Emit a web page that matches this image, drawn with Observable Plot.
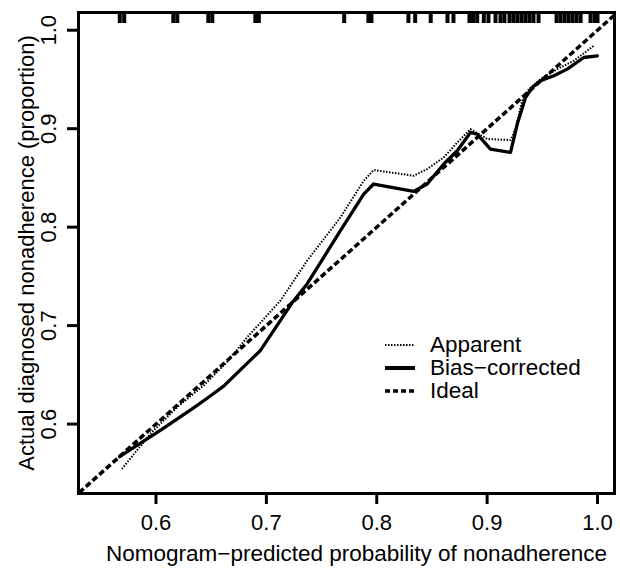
<!DOCTYPE html>
<html><head><meta charset="utf-8">
<script src="https://cdn.jsdelivr.net/npm/d3@7"></script>
<script src="https://cdn.jsdelivr.net/npm/@observablehq/plot@0.6"></script>
<style>
html,body{margin:0;padding:0;background:#fff;}
#wrap{position:relative;width:620px;height:570px;font-family:"Liberation Sans",Arial,sans-serif;color:#000;}
#legend{position:absolute;left:385px;top:333px;font-size:22.5px;color:#000;}
.row{display:flex;align-items:center;height:23.35px;white-space:nowrap;}
.row svg{width:30px;height:10px;margin-right:15px;flex:none;}
</style></head><body><div id="wrap"></div>
<script>
// Data
const apparentX = [0.5691, 0.5948, 0.6190, 0.6430, 0.6643, 0.6825, 0.7127, 0.7369, 0.7671, 0.7882, 0.7972, 0.8335, 0.8457, 0.8607, 0.8730, 0.8849, 0.9001, 0.9212, 0.9257, 0.9318, 0.9378, 0.9484, 0.9635, 0.9786, 0.9967];
const apparentY = [0.5544, 0.5900, 0.6170, 0.6390, 0.6630, 0.6880, 0.7253, 0.7659, 0.8099, 0.8471, 0.8580, 0.8522, 0.8590, 0.8708, 0.8860, 0.8996, 0.8895, 0.8885, 0.8996, 0.9284, 0.9402, 0.9504, 0.9605, 0.9690, 0.9842];
const biasX = [0.5670, 0.6039, 0.6341, 0.6492, 0.6613, 0.6945, 0.7247, 0.7369, 0.7671, 0.7882, 0.7972, 0.8335, 0.8457, 0.8607, 0.8729, 0.8849, 0.8910, 0.9030, 0.9212, 0.9273, 0.9348, 0.9409, 0.9484, 0.9604, 0.9726, 0.9876, 0.9998];
const biasY = [0.5669, 0.5935, 0.6165, 0.6285, 0.6385, 0.6746, 0.7253, 0.7423, 0.7964, 0.8336, 0.8438, 0.8363, 0.8438, 0.8641, 0.8776, 0.8962, 0.8945, 0.8793, 0.8759, 0.9047, 0.9317, 0.9419, 0.9487, 0.9537, 0.9605, 0.9723, 0.9740];
const idealX = [0.50, 1.05];
const rugX = [0.5672, 0.5712, 0.6157, 0.6193, 0.6474, 0.6510, 0.6900, 0.6932, 0.7705, 0.7924, 0.7952, 0.8287, 0.8348, 0.8489, 0.8641, 0.8695, 0.8840, 0.8872, 0.8910, 0.8970, 0.9012, 0.9076, 0.9121, 0.9157, 0.9203, 0.9239, 0.9275, 0.9312, 0.9348, 0.9384, 0.9420, 0.9466, 0.9629, 0.9665, 0.9702, 0.9738, 0.9774, 0.9810, 0.9847, 0.9937, 0.9974, 1.0];
const xTicks = [0.6, 0.7, 0.8, 0.9, 1.0];
const yTicks = [0.6, 0.7, 0.8, 0.9, 1.0];
const xDomain = [0.5298, 1.0154];
const yDomain = [0.5295, 1.018];
const xLabel = "Nomogram\u2212predicted probability of nonadherence";
const yLabel = "Actual diagnosed nonadherence (proportion)";
const legendLabels = ["Apparent", "Bias\u2212corrected", "Ideal"];

const apparent = apparentX.map((x, i) => ({x, y: apparentY[i]}));
const bias = biasX.map((x, i) => ({x, y: biasY[i]}));
const ideal = idealX.map(v => ({x: v, y: v}));
const fmt = d3.format(".1f");
const FONT = "Liberation Sans, Arial, Helvetica, sans-serif";

const chart = Plot.plot({
  width: 620, height: 570,
  marginLeft: 78, marginRight: 6, marginTop: 12, marginBottom: 77,
  x: {domain: xDomain},
  y: {domain: yDomain},
  style: {fontFamily: FONT, fontSize: "22px", color: "#000", background: "#fff", overflow: "visible"},
  marks: [
    Plot.ruleX(rugX, {x: d => d, stroke: "#000", strokeWidth: 4, insetBottom: 470}),
    Plot.line(ideal, {x: "x", y: "y", stroke: "#000", strokeWidth: 3.5, strokeDasharray: "6,3", strokeLinecap: "butt", clip: true}),
    Plot.line(apparent, {x: "x", y: "y", stroke: "#000", strokeWidth: 2, strokeDasharray: "1.5,1.5", strokeLinecap: "butt"}),
    Plot.line(bias, {x: "x", y: "y", stroke: "#000", strokeWidth: 3.3}),
    Plot.frame({stroke: "#000", strokeWidth: 3}),
    Plot.axisX({ticks: xTicks, tickFormat: fmt, tickSize: 11, tickPadding: 10.3, strokeWidth: 3, fontSize: 22, label: null}),
    Plot.text([xLabel], {text: d => d, frameAnchor: "bottom", lineAnchor: "bottom", dy: 67, dx: 10, fontSize: 22.5, fill: "#000"}),
    Plot.axisY({ticks: yTicks, tickFormat: fmt, tickSize: 11, tickPadding: 12, tickRotate: -90, strokeWidth: 3, fontSize: 22,
      label: yLabel, labelAnchor: "center", labelOffset: 60, labelArrow: "none"})
  ]
});
const wrap = document.getElementById("wrap");
wrap.appendChild(chart);

// Legend inside the plot area
const styles = [
  {w: 2, dash: "1.5,1.5"},
  {w: 4, dash: null},
  {w: 3.5, dash: "5,3"}
];
const legend = document.createElement("div");
legend.id = "legend";
legendLabels.forEach((lab, i) => {
  const row = document.createElement("div");
  row.className = "row";
  const s = styles[i];
  row.innerHTML = `<svg viewBox="0 0 30 10"><line x1="0" x2="30" y1="5" y2="5" stroke="#000" stroke-width="${s.w}" ${s.dash ? `stroke-dasharray="${s.dash}"` : ""}/></svg><span>${lab}</span>`;
  legend.appendChild(row);
});
wrap.appendChild(legend);
</script>
</body></html>
